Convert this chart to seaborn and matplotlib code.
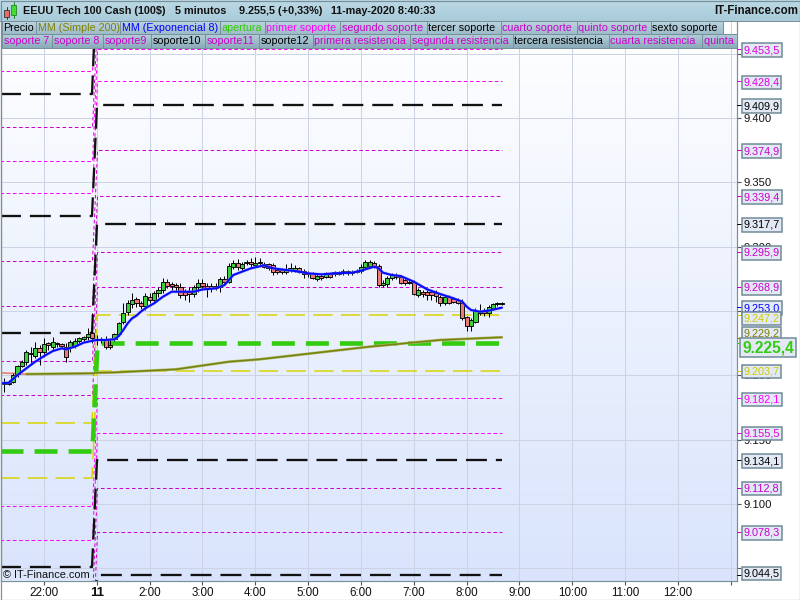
import numpy as np
import matplotlib
matplotlib.use("Agg")
import matplotlib.pyplot as plt
from matplotlib.colors import LinearSegmentedColormap
from matplotlib.patches import Rectangle
import seaborn as sns

first_bar = -9
opens = [9193.3,9193.3,9195.1,9201.1,9207.5,9210.1,9217.6,9215,9221,9217.9,
 9224.9,9222.3,9224.9,9224.4,9222.3,9222.3,9223.1,9227,9228.2,9230.1,
 9232.6,9227.5,9228.5,9228,9223.6,9228,9231.9,9241.7,9249.5,9255.4,
 9259,9256,9253.9,9261.1,9258.6,9263.7,9266.3,9272.8,9270.7,9270.2,
 9268.9,9265,9265,9263.2,9268.4,9272,9269.7,9269.7,9269.7,9268.9,
 9274.6,9272.8,9284.5,9287.6,9283.2,9287.3,9288.1,9285.7,9287.3,9286.5,
 9286.3,9285.8,9281.9,9281.9,9280.1,9281.9,9281.9,9283.7,9281.1,9279.3,
 9279.3,9274.6,9277.2,9276.2,9278.5,9278.5,9278.5,9279.3,9279.3,9279.3,
 9280.1,9281.1,9284.5,9285,9287.6,9285,9270.2,9270.7,9275.4,9278,
 9276.2,9274.1,9272,9272.8,9262.5,9265.1,9264.5,9264.5,9264.3,9261.2,
 9256,9260.7,9259.1,9258.6,9256.5,9245.1,9238.6,9241.7,9248.7,9250.3,
 9248.2,9252.1,9255.2,9255.5]
closes = [9194.3,9194.3,9200.3,9207.5,9210.1,9217.9,9216.3,9221.5,9217.9,9224.1,
 9223.6,9225.7,9224.4,9223.1,9214.5,9225.7,9227,9228.8,9229.5,9231.9,
 9228.8,9228.5,9227.5,9221.8,9221.8,9231.9,9240.4,9248.7,9256,9258.6,
 9256,9253.9,9261.7,9258.6,9263.7,9266.3,9272.8,9269.7,9269.4,9268.9,
 9262.4,9262.4,9262.9,9268.4,9272,9269.7,9266.8,9267.6,9267.6,9274.6,
 9272.5,9285,9287.6,9284,9286.3,9287.8,9286.5,9287.6,9287.8,9284.4,
 9283.2,9280.6,9280.6,9280.1,9281.9,9283.7,9283.7,9280.6,9278.5,9278.5,
 9275.4,9277.2,9275.4,9279.3,9276.2,9280.6,9280.1,9281.1,9281.1,9280.6,
 9281.1,9284.5,9288.4,9288.4,9285,9270.2,9272,9275.4,9278,9276.2,
 9271.5,9271.5,9272.8,9263.2,9266.4,9263.2,9262.5,9262.5,9262,9256.5,
 9260.7,9256.5,9257.3,9256.5,9244.3,9238.4,9243,9250,9250.3,9248.7,
 9252.9,9255.2,9255.9,9255.9]
highs = [9197.7,9196.4,9201.6,9208.1,9211.9,9219.7,9222.3,9226.2,9223.6,9228.8,
 9226.2,9230.1,9226.2,9224.9,9224.9,9227.5,9228.8,9230.1,9230.6,9236.5,
 9248.2,9231.4,9230,9230.6,9228.8,9232.6,9241.7,9256,9258.6,9263.7,
 9261.1,9258,9263.7,9263.7,9265.8,9268.9,9275.4,9274.6,9272.8,9271.5,
 9271.5,9266.8,9268.9,9270.2,9274.6,9274.6,9271.5,9271.5,9271.5,9276.7,
 9277.2,9287,9289.6,9290.2,9288.3,9289.6,9290.9,9291.7,9290.9,9288.3,
 9287.6,9287,9283.2,9283.2,9286.6,9287,9285.8,9284.5,9282.4,9281.1,
 9280.6,9279.3,9279.3,9280.6,9279.8,9281.4,9281.4,9282.4,9281.9,9281.9,
 9282.4,9286.6,9289.7,9289.7,9289.1,9286.6,9274.1,9277.2,9279.3,9279.3,
 9278,9276.2,9274.1,9274.1,9267.6,9266.4,9266.4,9266.4,9266.4,9262.5,
 9261.7,9262.5,9260.7,9259.9,9259.1,9246.1,9244.3,9252.1,9255.5,9252.1,
 9254.7,9256.5,9257.3,9256.8]
lows = [9187.3,9192.5,9193.8,9199,9206.7,9208.1,9209.3,9213.2,9208,9214.5,
 9219.7,9219.7,9222.3,9221,9210.6,9218.4,9221,9224.9,9226.2,9227.5,
 9224.9,9223.6,9224.9,9220.2,9220.2,9227,9230.6,9239.9,9246.9,9252.1,
 9253.4,9251.3,9250.8,9256,9256,9261.1,9263.7,9267.6,9266.3,9265,
 9259.8,9258.6,9257.3,9261.1,9265,9266.3,9261.1,9265,9266.3,9265,
 9270.2,9271.5,9282.4,9281.9,9281.9,9285.7,9284.4,9285,9285,9283.2,
 9281.9,9278,9278.5,9278.5,9278.5,9280.6,9280.6,9279.3,9275.4,9276.7,
 9274.6,9273.6,9274.1,9275.4,9275.4,9277.2,9277.7,9278,9278.3,9278,
 9279.3,9279.8,9283.2,9284,9283.2,9269,9268.4,9268.4,9274.1,9274.6,
 9271,9270.2,9270.7,9262.5,9260.7,9261.2,9258.6,9258.6,9257.3,9253.9,
 9254.7,9255.5,9256,9255.5,9243,9234.8,9234.8,9241,9246.9,9246.1,
 9245.6,9250.8,9253.9,9254.7]

ema_bars = [-10,-8,-6,-4,-2,0,2,4,5,7,9,11,12,14,16,17,18,19,20,21,22,23,25,27,29,31,34,36,39,41,43,45,47,50,
            52,55,58,60,63,66,70,72,75,76,77,79,81,84,87,90,93,95,96,97,99,101,104]
ema_vals = [9193.8,9194.3,9200.3,9205.5,9210.6,9215,9218.9,9221,9220.2,9222.3,9225.4,9226.9,9227.5,9227.5,9228,
            9230.6,9235.2,9240.4,9244.3,9246.4,9249.5,9252.1,9256,9261.1,9265,9265,9265,9266.8,9267.6,9270.2,
            9278,9280.6,9283.2,9285.5,9283.2,9281.9,9280.6,9279.3,9278.5,9279.3,9279.8,9281.4,9284.5,9283.2,
            9279.8,9278,9277.2,9272.8,9266.9,9263.2,9259.9,9257.3,9253.4,9250.8,9249.5,9250.3,9252.6]
sma_red_bars = [-10,-4]
sma_red_vals = [9202.0,9201.0]
sma_bars = [-4,11,12,16,30,42,49,74,90,104]
sma_vals = [9201.0,9201.6,9202.0,9202.3,9204.7,9210.6,9212.5,9222.3,9227.5,9229.6]

level_bars = [-10,11,12,104]
magenta_prev  = [9436.3,9393.0,9366.6,9341.7,9288.9,9253.9,9211.2,9184.8,9098.5,9072.0,9028.0,8993.0]
magenta_today = [9521.0,9478.0,9453.5,9428.4,9374.9,9339.4,9295.9,9268.9,9182.1,9155.5,9112.8,9078.3]
magenta_cols  = ['#ff00ff','#cc00cc','#ff00ff','#ff00ff','#cc00cc','#cc00cc','#cc00cc','#cc00cc','#ff00ff','#ff00ff','#cc00cc','#cc00cc']
black_prev  = [9418.4,9323.9,9233.0,9051.0,8960.0]
black_today = [9503.0,9409.9,9317.7,9134.1,9044.5]
yellow_prev  = [9163.0,9120.3]
yellow_today = [9247.2,9203.7]
open_prev, open_today = 9141.3, 9225.4

axis_ticks = [9450,9400,9350,9300,9250,9200,9150,9100,9050]
axis_labels = ['', '9.400','9.350','9.300','9.250','9.200','9.150','9.100','']
hour_bars = [0,12,24,36,48,60,72,84,96,108,120,132,144,156]
hour_labels = ['22:00','11','2:00','3:00','4:00','5:00','6:00','7:00','8:00','9:00','10:00','11:00','12:00','']

box_vals = [9453.5,9428.4,9409.9,9374.9,9339.4,9317.7,9295.9,9268.9,9253.0,9247.2,9229.2,9203.7,9182.1,9155.5,9134.1,9112.8,9078.3,9044.5]
box_text = ['9.453,5','9.428,4','9.409,9','9.374,9','9.339,4','9.317,7','9.295,9','9.268,9','9.253,0','9.247,2','9.229,2','9.203,7','9.182,1','9.155,5','9.134,1','9.112,8','9.078,3','9.044,5']
box_cols = ['#dd00dd','#dd00dd','#000000','#cc00cc','#cc00cc','#000000','#cc00cc','#cc00cc','#0000ff','#cccc00','#808000','#cccc00','#ff00ff','#dd00dd','#000000','#cc00cc','#cc00cc','#000000']
box_shift = [-1,-1,-1,-1,-1,-1,-1,-1,-1,-4,4,-1,-1,-1,-1,-1,-1,2]

tabs1 = ['Precio','MM (Simple 200)','MM (Exponencial 8)','apertura','primer soporte','segundo soporte','tercer soporte','cuarto soporte','quinto soporte','sexto soporte']
tabs1_col = ['#000000','#808000','#0000ff','#33cc00','#ff00ff','#cc00cc','#000000','#cc00cc','#cc00cc','#000000']
tabs1_x = [2,36,120,220,265,340,427,501,577,651,723]
tabs2 = ['soporte 7','soporte 8','soporte9','soporte10','soporte11','soporte12','primera resistencia','segunda resistencia','tercera resistencia','cuarta resistencia','quinta resistencia']
tabs2_col = ['#cc00cc','#cc00cc','#cc00cc','#000000','#cc00cc','#000000','#cc00cc','#cc00cc','#000000','#cc00cc','#cc00cc']
tabs2_x = [2,52,103,151,205,259,313,410,513,609,702,737]

sns.set_theme(style="white")
plt.rcParams['font.family'] = ['Liberation Sans', 'DejaVu Sans']

W, H = 800, 600
fig = plt.figure(figsize=(8, 6), dpi=100, facecolor='white')
ax = fig.add_axes([1/W, 1-581/H, 736/W, 560/H])

grad = LinearSegmentedColormap.from_list('bg', ['#ffffff', '#d9e4fc'])
ax.imshow(np.linspace(0, 1, 256)[:, None], cmap=grad, aspect='auto', extent=[0, 1, 0, 1],
          transform=ax.transAxes, zorder=0)

PX = 0.72
def level(prev, today, color, lw, dash, z=2):
    sns.lineplot(x=level_bars, y=[prev, prev, today, today], ax=ax, color=color, lw=lw, estimator=None,
                 sort=False, legend=False, linestyle=(0, dash), zorder=z, dash_capstyle='butt', snap=True)

for p, t, c in zip(magenta_prev, magenta_today, magenta_cols):
    level(p, t, c, 1*PX, (3.6, 2.6))
for p, t in zip(yellow_prev, yellow_today):
    level(p, t, '#d8d400', 1.5*PX, (13, 5.5))
level(open_prev, open_today, '#33cc11', 4.6*PX, (5.0, 2.4))
for p, t in zip(black_prev, black_today):
    level(p, t, '#111111', 2.3*PX, (9.1, 3.9))

sns.lineplot(x=sma_red_bars, y=sma_red_vals, ax=ax, color='#e8907e', lw=2*PX, estimator=None, sort=False, zorder=3)
sns.lineplot(x=sma_bars, y=sma_vals, ax=ax, color='#b8bc70', lw=2.8*PX, estimator=None, sort=False, zorder=3)
sns.lineplot(x=sma_bars, y=sma_vals, ax=ax, color='#748410', lw=1.6*PX, estimator=None, sort=False, zorder=3)

bars = np.arange(first_bar, first_bar + len(opens))
o, c, hi, lo = map(np.array, (opens, closes, highs, lows))
ax.vlines(bars, lo, hi, color='black', lw=1*PX, zorder=4)
up = c >= o
ax.bar(bars, np.maximum(np.abs(c - o), 0.5), bottom=np.minimum(o, c), width=0.95,
       color=np.where(up, '#3ccf3c', '#ea7b78'), edgecolor='#000000', linewidth=0.9*PX, zorder=5)

sns.lineplot(x=ema_bars, y=ema_vals, ax=ax, color='#8090ff', lw=3*PX, estimator=None, sort=False, zorder=6, alpha=.6)
sns.lineplot(x=ema_bars, y=ema_vals, ax=ax, color='#0808ff', lw=2*PX, estimator=None, sort=False, zorder=6)

ax.set_xlim(-9.76, 157.4)
ax.set_ylim(9040.2, 9475.4)
ax.set_xlabel(''); ax.set_ylabel('')
ax.set_xticks(hour_bars)
ax.set_xticklabels(hour_labels, fontsize=8.4, color='#111111')
ax.get_xticklabels()[1].set_fontweight('bold')
ax.get_xticklabels()[1].set_fontsize(9.5)
ax.yaxis.tick_right()
ax.set_yticks(axis_ticks)
ax.set_yticklabels(axis_labels, fontsize=8.1, color='#111111')
ax.tick_params(axis='x', length=3, width=0.8, color='#555555', pad=1.5, bottom=True)
ax.tick_params(axis='y', length=3, width=0.8, color='#555555', pad=1.5, right=True)
ax.grid(True, color='#ccd3e4', lw=1*PX, zorder=1)
ax.set_axisbelow(True)
for s, v in ax.spines.items():
    v.set_visible(s in ('left', 'right', 'bottom'))
    v.set_color('#76909c'); v.set_linewidth(1.2*PX)

tr = ax.get_yaxis_transform()
for v, t, col, sh in zip(box_vals, box_text, box_cols, box_shift):
    ax.plot([1, 1 + 5/736], [v, v], transform=tr, color=col, lw=1*PX, clip_on=False, zorder=7)
    ax.annotate(t, xy=(1, v), xycoords=tr, xytext=(6.5, sh), textcoords='offset pixels', va='center', ha='left',
                fontsize=7.8, color=col, annotation_clip=False, zorder=8,
                bbox=dict(boxstyle='square,pad=0.17', fc='#e2e9f5', ec='#6f8995', lw=1.5*PX))
ax.plot([1, 1 + 5/736], [open_today]*2, transform=tr, color='#33cc11', lw=1*PX, clip_on=False, zorder=7)
ax.annotate('9.225,4', xy=(1, open_today), xycoords=tr, xytext=(5.5, -5), textcoords='offset pixels', va='center',
            ha='left', fontsize=11.2, fontweight='bold', color='#33cc11', annotation_clip=False, zorder=9,
            bbox=dict(boxstyle='square,pad=0.13', fc='#e2e9f5', ec='#6f8995', lw=1.5*PX))

# interface chrome in pixel coordinates
ov = fig.add_axes([0, 0, 1, 1], zorder=10)
ov.set_xlim(0, W); ov.set_ylim(H, 0); ov.axis('off'); ov.patch.set_alpha(0)

def gradient(x0, y0, x1, y1, top, bottom):
    cm = LinearSegmentedColormap.from_list('g', [top, bottom])
    ov.imshow(np.linspace(0, 1, 32)[:, None], cmap=cm, aspect='auto', extent=[x0, x1, y1, y0], zorder=1)

gradient(0, 0, W, 21, '#bcd9e5', '#a9cbd9')
ov.plot([0, W], [20.5, 20.5], color='#76909c', lw=1*PX, zorder=2)

def tab_row(xs, names, cols, y0, y1, top, bottom):
    for i, (nm, cl) in enumerate(zip(names, cols)):
        gradient(xs[i], y0, xs[i+1], y1, top, bottom)
        box = Rectangle((xs[i], y0), xs[i+1]-xs[i], y1-y0, fc='none', ec='#76909c', lw=1*PX, zorder=2)
        ov.add_patch(box)
        t = ov.text(xs[i]+1.5, (y0+y1)/2+0.3, nm, color=cl, fontsize=7.75, va='center', ha='left', zorder=3, clip_on=True)
        t.set_clip_path(box)

tab_row(tabs1_x, tabs1, tabs1_col, 21, 34, '#bcd5df', '#9dbcc9')
tab_row(tabs2_x, tabs2, tabs2_col, 34, 48, '#b4ced9', '#8aabba')

# header candle icon
ov.plot([7, 7], [7, 19], color='#333333', lw=0.7, zorder=3)
ov.add_patch(Rectangle((4, 10), 5, 7, fc='#ea6b68', ec='#333333', lw=0.6, zorder=4))
ov.plot([14, 14], [2, 18], color='#228822', lw=0.7, zorder=3)
ov.add_patch(Rectangle((11, 5), 5, 10, fc='#44dd33', ec='#228822', lw=0.6, zorder=4))

hdr = dict(fontsize=7.85, fontweight='bold', va='center', ha='left', color='#111111', zorder=3)
ov.text(23, 11, 'EEUU Tech 100 Cash (100$)', **hdr)
ov.text(175, 11, '5 minutos', **hdr)
ov.text(239, 11, '9.255,5 (+0,33%)', **hdr)
ov.text(331, 11, '11-may-2020 8:40:33', **hdr)
ov.text(714, 11, 'IT-Finance.com', **{**hdr, 'fontsize': 8.3})

ov.add_patch(Rectangle((1.5, 568.5), 87, 12, fc='#dce6fb', ec='none', zorder=2))
ov.text(3, 574.5, '© IT-Finance.com', fontsize=7.9, va='center', ha='left', color='#111111', zorder=3)

ov.add_patch(Rectangle((0.5, 0.5), W-1, H-1, fc='none', ec='#76909c', lw=1.2*PX, zorder=5))

fig.savefig('out.png', dpi=100)
